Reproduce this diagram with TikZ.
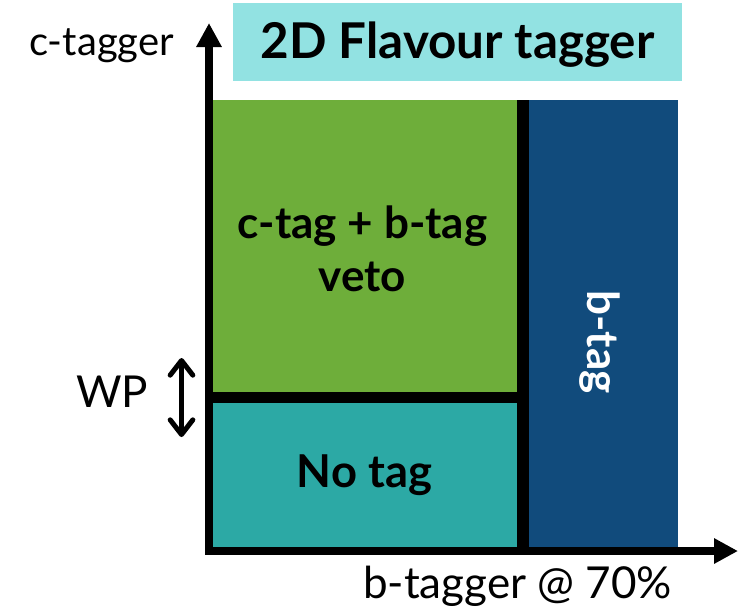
\documentclass[tikz,border=0pt]{standalone}
\usepackage{fontspec}
\setmainfont{Lato}
\usetikzlibrary{arrows.meta}
\definecolor{titlecyan}{HTML}{92E2E2}
\definecolor{vetogreen}{HTML}{6EAE3A}
\definecolor{notagteal}{HTML}{2CA9A5}
\definecolor{btagblue}{HTML}{114B7C}

\begin{document}
\begin{tikzpicture}[x=0.75pt,y=-0.75pt,
  axislabel/.style={font=\fontsize{30}{36}\selectfont},
  boxlabel/.style={font=\fontsize{33}{40}\selectfont\bfseries,align=center}]
\useasboundingbox (0,0) rectangle (738,615);
% tag regions
\fill[vetogreen] (209,100) rectangle (523,397);
\fill[notagteal] (209,397) rectangle (523,551);
\fill[btagblue] (523,100) rectangle (678,551);
\fill[titlecyan] (233,3) rectangle (682,81);
% working point cuts
\draw[line width=9pt] (523,100) -- (523,551);
\draw[line width=8pt] (209,397.5) -- (523,397.5);
% axes
\draw[line width=6pt,{Triangle[length=18pt,width=18pt]}-{Triangle[length=18pt,width=18pt]}]
  (209,23) -- (209,551) -- (738,551);
\node[font=\fontsize{37}{44}\selectfont\bfseries,anchor=base] (title) at (457.5,58) {2D Flavour tagger};
\node[axislabel,anchor=base] (ylabel) at (101.5,55) {c-tagger};
\node[axislabel,font=\fontsize{33}{40}\selectfont,anchor=base] (xlabel) at (517.5,598) {b-tagger @ 70\%};
\node[axislabel,font=\fontsize{33}{40}\selectfont,anchor=base] (wp) at (112,407) {WP};
\coordinate (wpup) at (181.5,358);
\coordinate (wpdown) at (181.5,437);
\draw[line width=3.75pt,line cap=round,{Straight Barb[length=11pt,width=17pt,round]}-{Straight Barb[length=11pt,width=17pt,round]}]
  (wpup) -- (wpdown);
\node[boxlabel] (veto) at (362.5,249) {c-tag + b-tag\\veto};
\node[boxlabel,font=\fontsize{34}{40}\selectfont\bfseries,anchor=base] (notag) at (364.5,487) {No tag};
\node[boxlabel,text=white,rotate=-90] (btag) at (600,342) {b-tag};
\end{tikzpicture}
\end{document}
